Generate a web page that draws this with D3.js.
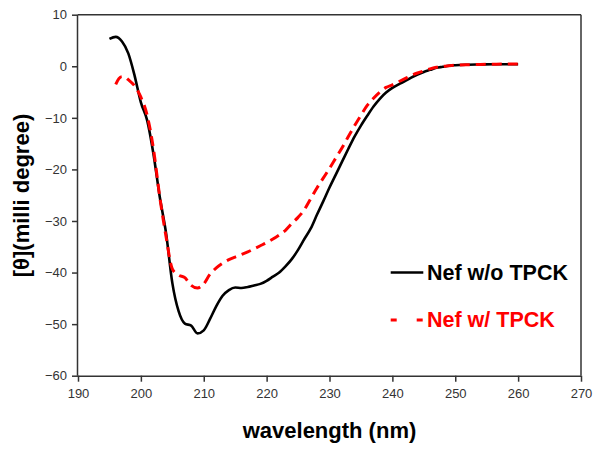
<!DOCTYPE html>
<html><head><meta charset="utf-8">
<script src="https://cdn.jsdelivr.net/npm/d3@7"></script>
<style>body{margin:0;background:#fff;} svg{display:block;}</style>
</head><body><svg id="c" width="600" height="450"></svg>
<script>
const wlBlack = [195,196,197,198,199,200,201,202,203,204,205,206,207,208,209,210,211,212,213,214,215,216,217,218,219,220,221,222,223,224,225,226,227,228,229,230,231,232,233,234,235,236,237,238,239,240,241,242,243,244,245,246,247,248,249,250,252,254,256,258,260];
const valBlack = [5.3,5.7,4.8,2.5,-1.8,-7.0,-10.5,-17,-25.3,-32.3,-42.0,-47.5,-49.9,-50.3,-51.8,-51.2,-49,-46.5,-44.5,-43.4,-42.9,-43.0,-42.8,-42.5,-42.2,-41.6,-40.8,-40.0,-38.8,-37.4,-35.6,-33.5,-31.5,-28.8,-26.2,-23.5,-21.0,-18.5,-16.0,-13.6,-11.5,-9.6,-7.8,-6.3,-5.1,-4.2,-3.5,-2.9,-2.2,-1.6,-1.1,-0.7,-0.3,-0.1,0.1,0.2,0.3,0.35,0.4,0.4,0.4];
const wlRed = [196,196.5,197,197.5,198,199,200,201,202,203,204,205,206,207,208,209,210,211,212,213,214,215,216,217,218,219,220,221,222,223,224,225,226,227,228,229,230,231,232,233,234,235,236,237,238,239,240,241,242,243,244,245,246,247,248,249,250,252,254,256,258,260];
const valRed = [-3.5,-2.4,-2.0,-2.1,-2.6,-3.8,-6.0,-9.5,-16,-25.3,-33,-39.3,-40.5,-41.0,-42.5,-43.0,-42.2,-40.3,-39.1,-38.2,-37.5,-37.0,-36.5,-36.0,-35.4,-34.8,-34.2,-33.5,-32.7,-31.8,-30.5,-29.3,-27.8,-25.7,-23.6,-21.7,-19.8,-17.8,-15.8,-13.6,-11.5,-9.5,-7.6,-6.2,-5.0,-4.1,-3.6,-3.0,-2.4,-1.8,-1.3,-0.9,-0.5,-0.2,0,0.1,0.2,0.3,0.35,0.4,0.45,0.45];
const xTicks = [190,200,210,220,230,240,250,260,270];
const yTicks = [10,0,-10,-20,-30,-40,-50,-60];
const seriesNames = ["Nef w/o TPCK","Nef w/ TPCK"];

const svg = d3.select("#c");
const L=78, R=581, T=14.7, B=375.7;
const x = d3.scaleLinear().domain([190,270]).range([L,R]);
const y = d3.scaleLinear().domain([-60,10]).range([B,T]);
const axisColor="#333";

// frame
svg.append("line").attr("x1",L).attr("x2",R).attr("y1",T).attr("y2",T).attr("stroke",axisColor).attr("stroke-width",1.5);
svg.append("line").attr("x1",R).attr("x2",R).attr("y1",T).attr("y2",B).attr("stroke",axisColor).attr("stroke-width",1.5);

const gx = svg.append("g").attr("transform",`translate(0,${B})`)
  .call(d3.axisBottom(x).tickValues(xTicks).tickSize(6).tickPadding(7).tickFormat(d3.format("d")));
const gy = svg.append("g").attr("transform",`translate(${L},0)`)
  .call(d3.axisLeft(y).tickValues(yTicks).tickSize(6).tickPadding(5).tickFormat(d3.format("d")));
[gx,gy].forEach(g=>{
  g.select(".domain").attr("stroke",axisColor).attr("stroke-width",1.5);
  g.selectAll(".tick line").attr("stroke",axisColor).attr("stroke-width",1.5);
  g.selectAll(".tick text").attr("fill","#333").style("font-family","'Liberation Sans',Arial,sans-serif").style("font-size","13px");
});
gy.select(".domain").attr("d",`M-0.5,${T}V${B}`);
gx.select(".domain").attr("d",`M${L},0.5H${R}`);

const line = d3.line().x(d=>x(d[0])).y(d=>y(d[1])).curve(d3.curveMonotoneX);
svg.append("path").datum(wlBlack.map((w,i)=>[w,valBlack[i]])).attr("d",line)
  .attr("fill","none").attr("stroke","#000").attr("stroke-width",2.6);
svg.append("path").datum(wlRed.map((w,i)=>[w,valRed[i]])).attr("d",line)
  .attr("fill","none").attr("stroke","#f00").attr("stroke-width",3).attr("stroke-dasharray","10,6");

// axis titles
svg.append("text").attr("x",(241+418)/2).attr("y",438).attr("text-anchor","middle")
  .style("font-family","'Liberation Sans',Arial,sans-serif").style("font-weight","bold").style("font-size","22px")
  .text("wavelength (nm)");
svg.append("text").attr("transform","translate(29,195.5) rotate(-90)").attr("text-anchor","middle")
  .style("font-family","'Liberation Sans',Arial,sans-serif").style("font-weight","bold").style("font-size","22px")
  .text("[θ](milli degree)");

// legend
const leg = svg.append("g");
leg.append("line").attr("x1",390.7).attr("x2",423.3).attr("y1",272.5).attr("y2",272.5).attr("stroke","#000").attr("stroke-width",2.6);
leg.append("text").attr("x",427).attr("y",279.5).style("font-family","'Liberation Sans',Arial,sans-serif").style("font-weight","bold").style("font-size","21.5px").attr("fill","#000").text(seriesNames[0]);
leg.append("line").attr("x1",390.7).attr("x2",423.3).attr("y1",320).attr("y2",320).attr("stroke","#f00").attr("stroke-width",3).attr("stroke-dasharray","6,20");
leg.append("text").attr("x",427).attr("y",327).style("font-family","'Liberation Sans',Arial,sans-serif").style("font-weight","bold").style("font-size","21.5px").attr("fill","#f00").text(seriesNames[1]);
</script></body></html>
